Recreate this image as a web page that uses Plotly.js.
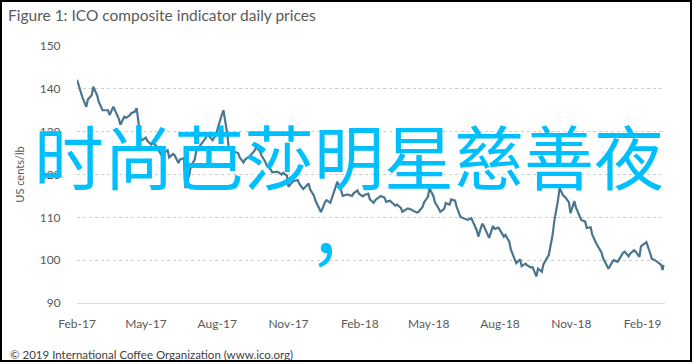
<!DOCTYPE html>
<html>
<head>
<meta charset="utf-8">
<script src="https://cdn.plot.ly/plotly-3.0.1.min.js"></script>
<style>
  html, body { margin: 0; padding: 0; background: #ffffff; }
  #wrap { position: relative; width: 695px; height: 364px; }
  #chart { position: absolute; left: 0; top: 0; width: 695px; height: 364px; }
  #frame { position: absolute; left: 0; top: 0; width: 688px; height: 358px; border: 2px solid #000; pointer-events: none; }
</style>
</head>
<body>
<div id="wrap">
  <div id="chart"></div>
  <div id="frame"></div>
</div>
<script>
// ICO composite indicator price, US cents/lb
const dates = [
  '2017-02-01','2017-02-06','2017-02-08','2017-02-13','2017-02-15','2017-02-20','2017-02-22','2017-02-27',
  '2017-03-01','2017-03-06','2017-03-08','2017-03-13','2017-03-15','2017-03-20','2017-03-22','2017-03-27','2017-03-29',
  '2017-04-03','2017-04-05','2017-04-10','2017-04-12','2017-04-17','2017-04-19','2017-04-24','2017-04-26',
  '2017-05-01','2017-05-03','2017-05-08','2017-05-10','2017-05-15','2017-05-17','2017-05-22','2017-05-24','2017-05-29','2017-05-31',
  '2017-06-05','2017-06-07','2017-06-12','2017-06-14','2017-06-19','2017-06-21','2017-06-26','2017-06-28',
  '2017-07-03','2017-07-05','2017-07-10','2017-07-12','2017-07-17','2017-07-19','2017-07-24','2017-07-26','2017-07-31',
  '2017-08-02','2017-08-07','2017-08-09','2017-08-14','2017-08-16','2017-08-21','2017-08-23','2017-08-28','2017-08-30',
  '2017-09-04','2017-09-06','2017-09-11','2017-09-13','2017-09-18','2017-09-20','2017-09-25','2017-09-27',
  '2017-10-02','2017-10-04','2017-10-09','2017-10-11','2017-10-16','2017-10-18','2017-10-23','2017-10-25','2017-10-30',
  '2017-11-01','2017-11-06','2017-11-08','2017-11-13','2017-11-15','2017-11-20','2017-11-22','2017-11-27','2017-11-29',
  '2017-12-04','2017-12-06','2017-12-11','2017-12-13','2017-12-18','2017-12-20','2017-12-25','2017-12-27',
  '2018-01-01','2018-01-03','2018-01-08','2018-01-10','2018-01-15','2018-01-17','2018-01-22','2018-01-24','2018-01-29','2018-01-31',
  '2018-02-05','2018-02-07','2018-02-12','2018-02-14','2018-02-19','2018-02-21','2018-02-26','2018-02-28',
  '2018-03-05','2018-03-07','2018-03-12','2018-03-14','2018-03-19','2018-03-21','2018-03-26','2018-03-28',
  '2018-04-02','2018-04-04','2018-04-09','2018-04-11','2018-04-16','2018-04-18','2018-04-23','2018-04-25','2018-04-30',
  '2018-05-02','2018-05-07','2018-05-09','2018-05-14','2018-05-16','2018-05-21','2018-05-23','2018-05-28','2018-05-30',
  '2018-06-04','2018-06-06','2018-06-11','2018-06-13','2018-06-18','2018-06-20','2018-06-25','2018-06-27',
  '2018-07-02','2018-07-04','2018-07-09','2018-07-11','2018-07-16','2018-07-18','2018-07-23','2018-07-25','2018-07-30',
  '2018-08-01','2018-08-06','2018-08-08','2018-08-13','2018-08-15','2018-08-20','2018-08-22','2018-08-27','2018-08-29',
  '2018-09-03','2018-09-05','2018-09-10','2018-09-12','2018-09-17','2018-09-19','2018-09-24','2018-09-26',
  '2018-10-01','2018-10-03','2018-10-08','2018-10-10','2018-10-15','2018-10-17','2018-10-22','2018-10-24','2018-10-29','2018-10-31',
  '2018-11-05','2018-11-07','2018-11-12','2018-11-14','2018-11-19','2018-11-21','2018-11-26','2018-11-28',
  '2018-12-03','2018-12-05','2018-12-10','2018-12-12','2018-12-17','2018-12-19','2018-12-24','2018-12-26','2018-12-31',
  '2019-01-02','2019-01-07','2019-01-09','2019-01-14','2019-01-16','2019-01-21','2019-01-23','2019-01-28','2019-01-30',
  '2019-02-04','2019-02-06','2019-02-11','2019-02-13','2019-02-18','2019-02-20','2019-02-25','2019-02-27','2019-02-28'
];
const prices = [
  142.1,139,138,135.8,137.5,138.5,140.5,138.5,
  137,135,135,135,133.9,135.8,135,133,131.6,
  133.5,133.2,133.8,134.3,134.7,135.5,128.5,128,
  128.6,127.8,127,127.5,126.5,125.8,124.2,125,125.7,124,
  124.8,124.5,122.7,123.5,123.8,116.8,120,122,
  123.5,125.5,126.8,127.5,128.5,129.5,128.5,128,129.5,
  131,134,135,129.5,126,125.2,125.3,125,124,
  122.8,123.5,124.2,124.5,125.5,126.3,125.5,124.5,
  123,122,121.2,120.5,120.6,120.6,120,120.4,119.7,
  117.1,118.3,118.5,118.7,117.8,116.6,117,117.9,116.5,
  115,113.8,112,111.2,113.5,114,113.4,114.5,
  117,118.3,116.3,115,115.3,115.3,115,115.6,116.3,115.5,
  114.9,115.2,115.5,114.2,113.4,114,114.7,115,
  114.6,113.6,113.9,113.5,112.7,113,112.2,111.3,
  112,112.1,111.8,111.5,111.1,111.3,112.4,113.5,114.8,
  116.8,115,113.5,112,111.3,112,113.3,113,114.2,
  113.9,112.5,110.1,109.9,109.6,109.4,109.8,109,
  107,105.5,108.5,108,106,105.2,108,107.3,107.6,
  107,105.5,105.9,104.3,102.5,100.2,99.3,100.2,98.6,
  99.2,98.8,98.3,98.4,96.2,98,97.3,99,
  100.6,101.2,106,109,114.2,116.8,115,114.8,113.5,111,
  113.8,112.3,110.2,109.4,109,107.5,107.7,106,
  104,103.3,101.8,100.5,98.5,98,99.6,100,99.6,
  100.2,101.8,102,100.9,101.5,102.3,102,100.8,103.2,
  104,104.2,101.5,100.3,99.9,99.6,98.9,97.7,98.9
];
const xTickVals = ['2017-02-01','2017-05-01','2017-08-01','2017-11-01','2018-02-01','2018-05-01','2018-08-01','2018-11-01','2019-02-01'];
const yTickVals = [90,100,110,120,130,140,150];

const chartTitle = 'Figure 1: ICO composite indicator daily prices';
const yTitle = 'US cents/lb';
const overlayText = '时尚芭莎明星慈善夜';
const overlayComma = '，';
const footer = '© 2019 International Coffee Organization (<u>www.ico.org</u>)';

const plotL = 77, plotR = 665, plotT = 46, plotB = 303;
const W = 695, H = 364;
const px = x => (x - plotL) / (plotR - plotL);
const py = y => (plotB - y) / (plotB - plotT);

const trace = {
  x: dates, y: prices, type: 'scatter', mode: 'lines',
  line: { color: '#4a7690', width: 2.2 }, hoverinfo: 'x+y'
};

const layout = {
  width: W, height: H,
  margin: { l: plotL, r: W - plotR, t: plotT, b: H - plotB, pad: 0 },
  paper_bgcolor: '#ffffff', plot_bgcolor: '#ffffff',
  showlegend: false,
  title: {
    text: chartTitle, x: 8 / W, xanchor: 'left', xref: 'container',
    y: 1 - 16 / H, yanchor: 'middle', yref: 'container',
    font: { family: 'Lato, "Open Sans", sans-serif', size: 15.5, color: '#595959' }
  },
  xaxis: {
    type: 'date', range: ['2017-02-01', '2019-03-02'],
    tickvals: xTickVals, tickformat: '%b-%y',
    showgrid: false, zeroline: false,
    showline: true, linecolor: '#d9d9d9', linewidth: 1,
    ticks: 'outside', ticklen: 10, tickcolor: 'rgba(0,0,0,0)',
    tickfont: { family: 'Lato, "Open Sans", sans-serif', size: 12, color: '#595959' }
  },
  yaxis: {
    range: [90, 150], tickvals: yTickVals,
    showgrid: true, gridcolor: '#cfcfcf', griddash: 'dot', gridwidth: 1,
    zeroline: false, showline: false,
    ticks: 'outside', ticklen: 13, tickcolor: 'rgba(0,0,0,0)',
    tickfont: { family: 'Lato, "Open Sans", sans-serif', size: 12, color: '#595959' },
    title: { text: yTitle, standoff: 12, font: { family: 'Lato, "Open Sans", sans-serif', size: 11, color: '#595959' } }
  },
  annotations: [
    {
      text: overlayText, xref: 'paper', yref: 'paper',
      x: px(349), y: py(154), xanchor: 'center', yanchor: 'middle', showarrow: false,
      font: { family: '"Noto Sans CJK SC", sans-serif', size: 70, color: '#00bfff' }
    },
    {
      text: overlayComma, xref: 'paper', yref: 'paper',
      x: px(344), y: py(229), xanchor: 'center', yanchor: 'middle', showarrow: false,
      font: { family: '"Noto Sans CJK SC", sans-serif', size: 70, color: '#00bfff' }
    },
    {
      text: footer, xref: 'paper', yref: 'paper',
      x: px(8), y: py(354), xanchor: 'left', yanchor: 'middle', showarrow: false,
      font: { family: 'Lato, "Open Sans", sans-serif', size: 11.5, color: '#404040' }
    }
  ]
};

Plotly.newPlot('chart', [trace], layout, { staticPlot: true, displayModeBar: false });
</script>
</body>
</html>
